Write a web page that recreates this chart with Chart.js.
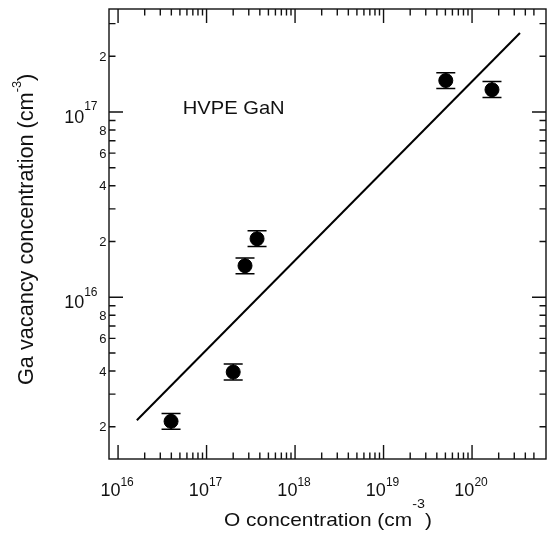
<!DOCTYPE html>
<html>
<head>
<meta charset="utf-8">
<script src="https://cdn.jsdelivr.net/npm/chart.js@4"></script>
<style>
  html, body { margin: 0; padding: 0; background: #fff; }
  canvas { display: block; }
</style>
</head>
<body>
<canvas id="myChart" width="548" height="533"></canvas>
<script>
/* values */
var oConc   = [3.97e16, 2.0e17, 2.72e17, 3.72e17, 5.05e19, 1.68e20];
var vGa     = [2.14e15, 3.95e15, 1.48e16, 2.07e16, 1.48e17, 1.32e17];
var vGaLow  = [1.94e15, 3.58e15, 1.34e16, 1.88e16, 1.34e17, 1.20e17];
var vGaHigh = [2.36e15, 4.36e15, 1.63e16, 2.29e16, 1.63e17, 1.46e17];

// straight fit line, two end points
var fitX = [1.63e16, 3.48e20];
var fitY = [2.17e15, 2.67e17];

// axes
var xDecades = [16, 17, 18, 19, 20];
var yDecades = [15, 16, 17];
var yMinorLabels = [2, 4, 6, 8];
var xTickEnd = 5e20;
var XMIN = 7.9e15, XMAX = 6.85e20, YMIN = 1.34e15, YMAX = 3.6e17;

var FONT = '"Liberation Sans", Arial, Helvetica, sans-serif';

/* build tick lists */
function ticksFor(decades, lo, hi){
	var list = [];
	decades.forEach(function(e){
		for(var m = 1; m <= 9; m++){
			var v = m * Math.pow(10, e);
			if(v >= lo && v <= hi) list.push({v: v, m: m, e: e});
		}
	});
	return list;
}
var xTicks = ticksFor(xDecades, 1e16, xTickEnd);
var yTicks = ticksFor(yDecades, YMIN, YMAX);

var points = oConc.map(function(x, i){ return {x: x, y: vGa[i]}; });
var fit = fitX.map(function(x, i){ return {x: x, y: fitY[i]}; });

// text helper, sx stretches along the writing direction
function txt(c, s, x, y, size, align, sx, rot){
	c.save();
	c.translate(x, y);
	if(rot) c.rotate(-Math.PI / 2);
	c.scale(sx || 1, 1);
	c.font = size + 'px ' + FONT;
	c.textAlign = align || 'left';
	c.textBaseline = 'alphabetic';
	c.fillText(s, 0, 0);
	c.restore();
}
function width(c, s, size){
	c.font = size + 'px ' + FONT;
	return c.measureText(s).width;
}

// title with a "-3" superscript: base + sup + ")"
function unitTitle(c, base, x, y, size, supSize, raise, sx, rot){
	var w1 = width(c, base, size) * sx;
	var w2 = width(c, '-3', supSize) * sx;
	if(!rot){
		txt(c, base, x, y, size, 'left', sx);
		txt(c, '-3', x + w1, y - raise, supSize, 'left', sx);
		txt(c, ')', x + w1 + w2, y, size, 'left', sx);
	}else{
		txt(c, base, x, y, size, 'left', sx, true);
		txt(c, '-3', x - raise, y - w1, supSize, 'left', sx, true);
		txt(c, ')', x, y - w1 - w2, size, 'left', sx, true);
	}
}

var axesPlugin = {
	id: 'axesPlugin',
	beforeDatasetsDraw: function(chart){
		var c = chart.ctx, xs = chart.scales.x, ys = chart.scales.y;
		c.save();
		c.strokeStyle = '#000';
		c.lineWidth = 1.5;
		oConc.forEach(function(v, i){
			var px = xs.getPixelForValue(v);
			var y1 = ys.getPixelForValue(vGaLow[i]);
			var y2 = ys.getPixelForValue(vGaHigh[i]);
			c.beginPath();
			c.moveTo(px, y1); c.lineTo(px, y2);
			c.moveTo(px - 9.5, y1); c.lineTo(px + 9.5, y1);
			c.moveTo(px - 9.5, y2); c.lineTo(px + 9.5, y2);
			c.stroke();
		});
		c.restore();
	},
	afterDraw: function(chart){
		var c = chart.ctx, a = chart.chartArea;
		var xs = chart.scales.x, ys = chart.scales.y;
		c.save();
		c.fillStyle = '#111';
		c.strokeStyle = '#111';
		c.lineWidth = 1.4;

		// frame
		c.strokeRect(a.left, a.top, a.right - a.left, a.bottom - a.top);

		// inward ticks, all four sides
		c.beginPath();
		xTicks.forEach(function(t){
			var px = xs.getPixelForValue(t.v), len = t.m === 1 ? 14 : 6.5;
			c.moveTo(px, a.bottom); c.lineTo(px, a.bottom - len);
			c.moveTo(px, a.top); c.lineTo(px, a.top + len);
		});
		yTicks.forEach(function(t){
			var py = ys.getPixelForValue(t.v), len = t.m === 1 ? 14 : 6.5;
			c.moveTo(a.left, py); c.lineTo(a.left + len, py);
			c.moveTo(a.right, py); c.lineTo(a.right - len, py);
		});
		c.stroke();

		// x tick labels: 10^n
		xDecades.forEach(function(e){
			var px = xs.getPixelForValue(Math.pow(10, e));
			var w1 = width(c, '10', 18), w2 = width(c, String(e), 12);
			var x0 = px - 1 - (w1 + w2) / 2;
			txt(c, '10', x0, 495.5, 18);
			txt(c, String(e), x0 + w1, 485.7, 12);
		});

		// y tick labels
		yTicks.forEach(function(t){
			var py = ys.getPixelForValue(t.v);
			if(t.m === 1){
				var w2 = width(c, String(t.e), 12);
				txt(c, String(t.e), a.left - 11.5, py - 1.6, 12, 'right');
				txt(c, '10', a.left - 11.5 - w2, py + 11, 18, 'right');
			}else if(yMinorLabels.indexOf(t.m) >= 0){
				txt(c, String(t.m), a.left - 2.5, py + 4.7, 13, 'right');
			}
		});

		// axis titles
		unitTitle(c, 'O concentration (cm', 224, 526, 19, 13, 18, 1.1, false);
		unitTitle(c, 'Ga vacancy concentration (cm', 33, 385, 22, 13, 12, 0.985, true);

		// annotation
		txt(c, 'HVPE GaN', 182.7, 114.3, 18.5, 'left', 1.09);
		c.restore();
	}
};

var canvas = document.getElementById('myChart');
var ctx = canvas.getContext('2d');

var plot = new Chart(ctx, {
	type: 'scatter',
	data: {
		datasets: [{
			data: points,
			backgroundColor: '#000',
			borderColor: '#000',
			pointRadius: 7,
			pointHoverRadius: 7
		}, {
			type: 'line',
			data: fit,
			borderColor: '#000',
			borderWidth: 2,
			pointRadius: 0,
			fill: false
		}]
	},
	options: {
		responsive: false,
		animation: false,
		events: [],
		layout: { autoPadding: false, padding: { left: 109, top: 9, right: 2, bottom: 74 } },
		plugins: { legend: { display: false }, tooltip: { enabled: false } },
		scales: {
			x: { type: 'logarithmic', bounds: 'data', min: XMIN, max: XMAX, display: false },
			y: { type: 'logarithmic', bounds: 'data', min: YMIN, max: YMAX, display: false }
		}
	},
	plugins: [axesPlugin]
});
</script>
</body>
</html>
